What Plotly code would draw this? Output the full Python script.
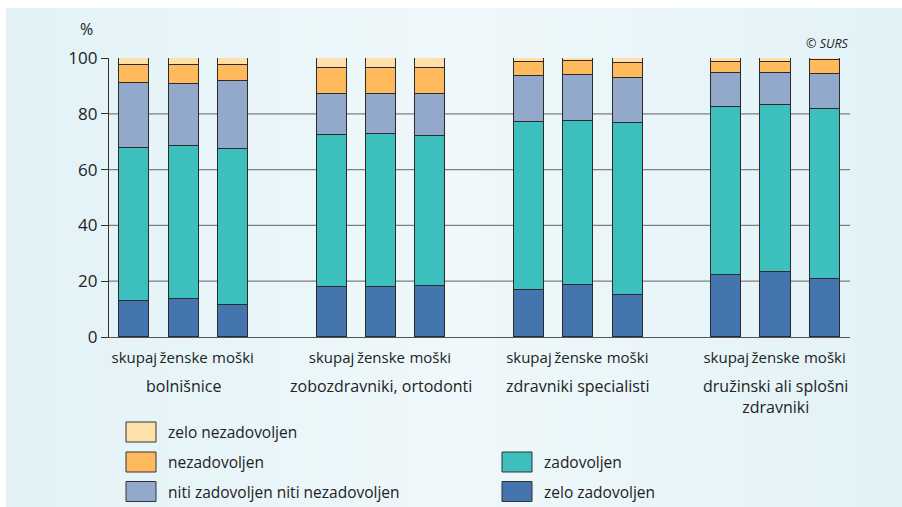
import plotly.graph_objects as go

# Satisfaction with health services, by provider type and sex (%)
groups = ["bolnišnice", "zobozdravniki, ortodonti", "zdravniki specialisti",
          "družinski ali splošni<br>zdravniki"]
members = ["skupaj", "ženske", "moški"]

zelo_zadovoljen = [12.8, 13.8, 11.6, 18.1, 18.1, 18.4, 17.0, 18.5, 15.2, 22.1, 23.3, 20.9]
zadovoljen = [55.0, 54.5, 55.8, 54.4, 54.8, 53.8, 60.1, 58.8, 61.5, 60.3, 60.0, 60.8]
niti = [23.3, 22.4, 24.4, 14.7, 14.3, 15.0, 16.3, 16.7, 16.1, 12.2, 11.3, 12.7]
nezadovoljen = [6.4, 6.9, 5.7, 9.2, 9.2, 9.2, 5.3, 4.9, 5.4, 4.1, 4.0, 4.9]
zelo_nezadovoljen = [2.5, 2.4, 2.5, 3.6, 3.6, 3.6, 1.3, 1.1, 1.8, 1.3, 1.4, 0.7]

series_names = ["zelo zadovoljen", "zadovoljen", "niti zadovoljen niti nezadovoljen",
                "nezadovoljen", "zelo nezadovoljen"]
series_values = [zelo_zadovoljen, zadovoljen, niti, nezadovoljen, zelo_nezadovoljen]
series_colors = ["#4475ae", "#3dbfbd", "#93a9cb", "#ffba5d", "#ffe0aa"]

y_ticks = [0, 20, 40, 60, 80, 100]

FONT = "Open Sans"
TEXT = "#222222"
EDGE = "#2b2b2b"

# slot positions: three bars per group, one empty slot between groups
positions = [4 * g + m for g in range(len(groups)) for m in range(len(members))]
tick_text = [m for _ in groups for m in members]

W, H = 902, 507
ML, MR, MT, MB = 109, 52, 58, 170
PW, PH = W - ML - MR, H - MT - MB


def px_x(px):
    return (px - ML) / PW


def px_y(py):
    return (H - MB - py) / PH


fig = go.Figure()
for name, vals, col in zip(series_names, series_values, series_colors):
    fig.add_trace(go.Bar(
        x=positions, y=vals, name=name, width=0.61,
        marker=dict(color=col, line=dict(color=EDGE, width=1)),
        showlegend=False, hovertemplate="%{y:.1f} %<extra>" + name + "</extra>",
    ))

shapes = []
# panel background with a soft horizontal shading
n_strips = 40
left_rgb, mid_rgb = (0xe2, 0xf2, 0xf6), (0xef, 0xf8, 0xfb)
x0_px, x1_px = 6, W
for i in range(n_strips):
    t = (i + 0.5) / n_strips
    k = 1 - abs(2 * t - 1)
    rgb = tuple(round(a + (b - a) * k) for a, b in zip(left_rgb, mid_rgb))
    sx0 = x0_px + (x1_px - x0_px) * i / n_strips
    sx1 = x0_px + (x1_px - x0_px) * (i + 1) / n_strips + 0.5
    shapes.append(dict(type="rect", xref="paper", yref="paper", layer="below",
                       x0=px_x(sx0), x1=px_x(sx1), y0=px_y(H), y1=px_y(8),
                       fillcolor="rgb(%d,%d,%d)" % rgb, line=dict(width=0)))

# horizontal grid lines (the 100 level only carries a tick)
for v in y_ticks[1:-1]:
    shapes.append(dict(type="line", xref="paper", yref="y", layer="below",
                       x0=0, x1=1, y0=v, y1=v,
                       line=dict(color="#7f7f7f", width=1.3)))

annotations = [
    dict(text="%", xref="paper", yref="paper", x=px_x(86), y=px_y(29),
         xanchor="center", yanchor="middle",
         showarrow=False, font=dict(family=FONT, size=16, color=TEXT)),
    dict(text="<i>© SURS</i>", xref="paper", yref="paper", x=px_x(851), y=px_y(44),
         xanchor="right", yanchor="middle",
         showarrow=False, font=dict(family=FONT, size=12.5, color=TEXT)),
]
for g, label in enumerate(groups):
    annotations.append(dict(
        text=label, xref="x", yref="paper", x=4 * g + 1, y=px_y(373),
        xanchor="center", yanchor="top", showarrow=False, align="center",
        font=dict(family=FONT, size=16, color=TEXT)))

# legend: left column (three rows), right column (two lower rows)
legend_slots = {
    "zelo nezadovoljen": (0, 0),
    "nezadovoljen": (0, 1),
    "niti zadovoljen niti nezadovoljen": (0, 2),
    "zadovoljen": (1, 1),
    "zelo zadovoljen": (1, 2),
}
col_x = [126, 502]
row_y = [432, 462, 491.5]
for name, col in zip(series_names, series_colors):
    c, r = legend_slots[name]
    sx, cy = col_x[c], row_y[r]
    shapes.append(dict(type="rect", xref="paper", yref="paper",
                       x0=px_x(sx), x1=px_x(sx + 30), y0=px_y(cy + 10), y1=px_y(cy - 10),
                       fillcolor=col, line=dict(color="#333333", width=1)))
    annotations.append(dict(text=name, xref="paper", yref="paper",
                            x=px_x(sx + 40), y=px_y(cy), xanchor="left", yanchor="middle",
                            showarrow=False, font=dict(family=FONT, size=15.5, color=TEXT)))

fig.update_layout(
    width=W, height=H,
    margin=dict(l=ML, r=MR, t=MT, b=MB, pad=0),
    paper_bgcolor="white", plot_bgcolor="rgba(0,0,0,0)",
    barmode="stack", bargap=0,
    shapes=shapes, annotations=annotations,
    font=dict(family=FONT, color=TEXT),
    xaxis=dict(range=[-0.513, 14.51], tickvals=positions, ticktext=tick_text,
               showgrid=False, zeroline=False, showline=True, linecolor="#555555",
               linewidth=1.3, ticks="", ticklabelstandoff=7, tickangle=0,
               tickfont=dict(family=FONT, size=15, color=TEXT), fixedrange=True),
    yaxis=dict(range=[0, 100], tickvals=y_ticks, showgrid=False, zeroline=False,
               showline=True, linecolor="#333333", linewidth=1.2,
               ticks="outside", ticklen=7, tickcolor="#333333", tickwidth=1.2,
               tickfont=dict(family=FONT, size=17, color=TEXT), fixedrange=True),
)

fig.write_html("out.html")
